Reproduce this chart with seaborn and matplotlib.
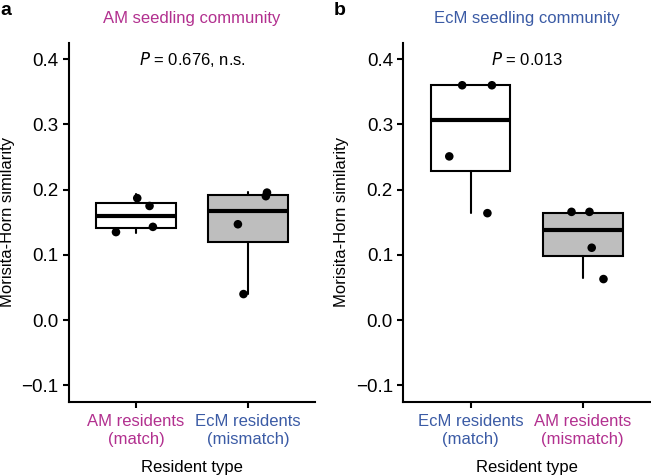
import numpy as np
import pandas as pd
import seaborn as sns
import matplotlib.pyplot as plt

# colours used for the two mycorrhizal types
am_col = "#B2308F"
ecm_col = "#3B5BA5"

# panel a: AM seedling community
a_groups = ["AM residents\n(match)", "EcM residents\n(mismatch)"]
a_group_cols = [am_col, ecm_col]
a_box_q1 = [0.141, 0.120]
a_box_med = [0.160, 0.168]
a_box_q3 = [0.179, 0.192]
a_whislo = [0.134, 0.040]
a_whishi = [0.193, 0.196]
a_pts_group = [0, 0, 0, 0, 1, 1, 1, 1]
a_pts_val = [0.135, 0.187, 0.175, 0.143, 0.147, 0.040, 0.190, 0.1955]
a_pts_jit = [-0.18, 0.01, 0.12, 0.15, -0.09, -0.04, 0.16, 0.17]

# panel b: EcM seedling community
b_groups = ["EcM residents\n(match)", "AM residents\n(mismatch)"]
b_group_cols = [ecm_col, am_col]
b_box_q1 = [0.229, 0.098]
b_box_med = [0.306, 0.138]
b_box_q3 = [0.360, 0.165]
b_whislo = [0.164, 0.064]
b_whishi = [0.360, 0.165]
b_pts_group = [0, 0, 0, 0, 1, 1, 1, 1]
b_pts_val = [0.251, 0.360, 0.360, 0.164, 0.166, 0.166, 0.111, 0.063]
b_pts_jit = [-0.19, -0.075, 0.19, 0.15, -0.10, 0.06, 0.08, 0.185]

box_fill = ["white", "#BEBEBE"]

sns.set_theme(style="ticks")
plt.rcParams["font.family"] = ["Liberation Sans", "DejaVu Sans"]
plt.rcParams["axes.linewidth"] = 1.5
plt.rcParams["axes.edgecolor"] = "black"
plt.rcParams["text.color"] = "black"
plt.rcParams["axes.labelcolor"] = "black"
plt.rcParams["xtick.color"] = "black"
plt.rcParams["ytick.color"] = "black"

fig = plt.figure(figsize=(6.51, 4.76), dpi=100)
ax_a = fig.add_axes([0.106, 0.156, 0.378, 0.754])
ax_b = fig.add_axes([0.6195, 0.156, 0.379, 0.754])


def draw_panel(ax, groups, gcols, q1, med, q3, lo, hi, pg, pv, pj, title, tcol, ptxt):
    stats = []
    for i in range(len(groups)):
        stats.append({"q1": q1[i], "med": med[i], "q3": q3[i],
                      "whislo": lo[i], "whishi": hi[i], "fliers": []})
    bp = ax.bxp(stats, positions=range(len(groups)), widths=0.71,
                patch_artist=True, showcaps=False,
                boxprops=dict(linewidth=1.5, edgecolor="black"),
                medianprops=dict(linewidth=3, color="black"),
                whiskerprops=dict(linewidth=1.5, color="black"))
    for patch, fc in zip(bp["boxes"], box_fill):
        patch.set_facecolor(fc)

    df = pd.DataFrame({"x": np.array(pg) + np.array(pj), "y": pv})
    sns.scatterplot(data=df, x="x", y="y", ax=ax, color="black", s=38,
                    edgecolor="none", zorder=5)

    ax.set_xlim(-0.6, len(groups) - 0.4)
    ax.set_ylim(-0.125, 0.425)
    ax.set_yticks([-0.1, 0.0, 0.1, 0.2, 0.3, 0.4])
    ax.set_yticklabels(["\u22120.1", "0.0", "0.1", "0.2", "0.3", "0.4"], fontsize=13.5)
    ax.set_xticks(range(len(groups)))
    ax.set_xticklabels(groups, fontsize=12, linespacing=1.25)
    ax.tick_params(axis="both", length=4, width=1.5)
    ax.tick_params(axis="x", pad=5)
    for lab, c in zip(ax.get_xticklabels(), gcols):
        lab.set_color(c)
    ax.set_xlabel("Resident type", fontsize=12, labelpad=9)
    ax.set_ylabel("Morisita-Horn similarity", fontsize=12, labelpad=5)
    sns.despine(ax=ax)
    ax.text(0.5, 1.068, title, transform=ax.transAxes, ha="center",
            va="center", fontsize=12, color=tcol)
    ax.text(0.5, 0.4, ptxt, transform=ax.transData,
            ha="center", va="center", fontsize=12)
    return ax


draw_panel(ax_a, a_groups, a_group_cols, a_box_q1, a_box_med, a_box_q3,
           a_whislo, a_whishi, a_pts_group, a_pts_val, a_pts_jit,
           "AM seedling community", am_col, r"$P$ = 0.676, n.s.")
draw_panel(ax_b, b_groups, b_group_cols, b_box_q1, b_box_med, b_box_q3,
           b_whislo, b_whishi, b_pts_group, b_pts_val, b_pts_jit,
           "EcM seedling community", ecm_col, r"$P$ = 0.013")

fig.text(0.001, 0.978, "a", fontsize=14, fontweight="bold", va="center")
fig.text(0.513, 0.978, "b", fontsize=14, fontweight="bold", va="center")

fig.savefig("out.png", dpi=100)
